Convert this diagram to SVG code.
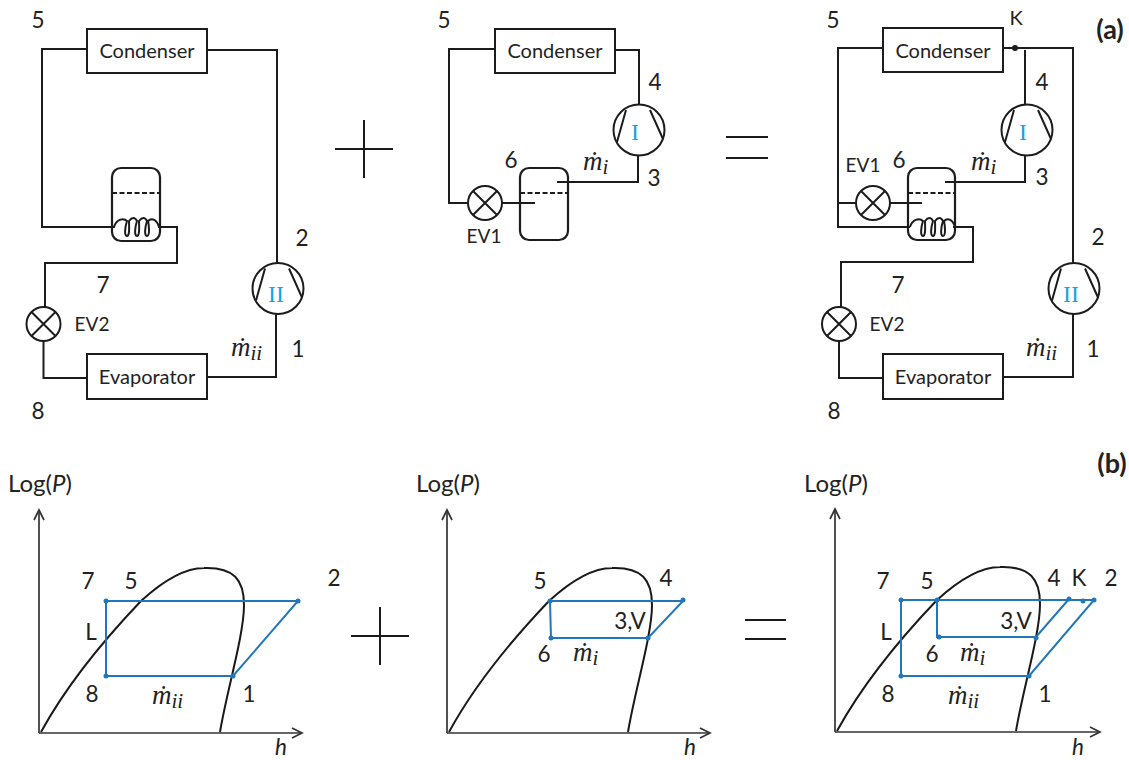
<svg xmlns="http://www.w3.org/2000/svg" width="1129" height="760" viewBox="0 0 1129 760">
<style>
text{font-family:"Lato","Carlito","Open Sans",sans-serif;fill:#222;text-anchor:middle}
.n{font-size:22.500px}.s{font-size:19px}.l{font-size:20px}.g{font-size:24px}.b{font-size:27px;font-weight:bold}
.m{font-family:"Liberation Serif",serif;font-style:italic;font-size:27px;text-anchor:start}
.m tspan{font-size:21px}
.r{font-family:"Liberation Serif",serif;font-size:24px;fill:#14a5e3}
.i{font-style:italic}
.w{fill:none;stroke:#1c1c1c;stroke-width:2}
.box{fill:#fff;stroke:#1c1c1c;stroke-width:2}
.d{fill:none;stroke:#1c1c1c;stroke-width:2;stroke-dasharray:5 2.500}
.a{fill:none;stroke:#333;stroke-width:1.700}
.h{fill:none;stroke:#1a1a1a;stroke-width:2}
.c{fill:none;stroke:#2277bb;stroke-width:2}
.p{fill:#2277bb}
.t{fill:none;stroke:#1c1c1c;stroke-width:2.200}
</style>
<defs>
<g id="comp"><circle r="25.500" class="box"/><path class="w" d="M-13,-20L-22,12M11,-20L24,9"/></g>
<g id="valve"><circle r="17" class="box"/><path class="w" d="M-12,-12L12,12M-12,12L12,-12"/></g>
<path id="coil" class="w" d="M0,9C2,2 9,-1 13,3C11,9 10,18 13,18C16,18 15,7 15,3C18,-1 21,-1 23,3C21,9 20,18 23,18C26,18 25,7 25,3C28,-1 31,-1 33,3C31,9 30,18 33,18C36,18 35,7 34,3C38,-1 43,2 45,9"/>
<path id="dome" class="h" d="M2,222C25,180 60,135 102,91C125,70 145,58 165,58C195,57 205,70 205,95C205,125 188,180 181,222"/>
<g id="arr"><path class="a" d="M0,223V0"/><path class="a" d="M0,223H263"/></g>
<path id="ah" d="M-10,-5L0,0L-10,5" class="a"/>
</defs>

<g id="connectors">
<path class="w" d="M87,49H42V227H115"/>
<path class="w" d="M158,227H177V263H45V310"/>
<path class="w" d="M43.500,338V378H87"/>
<path class="w" d="M207,377H276V312"/>
<path class="w" d="M277,265V50H207"/>

<path class="w" d="M495,49H449V203H470"/>
<path class="w" d="M500,203H535"/>
<path class="w" d="M557,182H638V154"/>
<path class="w" d="M639,106V50H614"/>

<path class="w" d="M883,48H838V227H910"/>
<path class="w" d="M838,203H858"/>
<path class="w" d="M888,203H922"/>
<path class="w" d="M945,182H1025V154"/>
<path class="w" d="M1025,106V50"/>
<path class="w" d="M1003,48H1073V264"/>
<path class="w" d="M953,227H973V262H841V310"/>
<path class="w" d="M839,338V378H883"/>
<path class="w" d="M1003,377H1073V312"/>
<circle cx="1015" cy="48" r="3" fill="#1c1c1c"/>
</g>

<g id="cond-a1"><rect class="box" x="87" y="29" width="120" height="44"/><text class="l" x="147" y="58">Condenser</text></g>
<g id="evap-a1"><rect class="box" x="87" y="354" width="120" height="45"/><text class="l" x="147" y="384">Evaporator</text></g>
<g id="tank-a1"><rect class="t" x="112" y="168" width="48" height="73" rx="9" fill="none"/><path class="d" d="M112,193H160"/><use href="#coil" x="114" y="218"/></g>
<g id="valve-a1"><use href="#valve" x="43.500" y="324"/></g>
<g id="comp-a1"><use href="#comp" x="278" y="288.500"/><text class="r" x="276" y="302">II</text></g>

<g id="cond-a2"><rect class="box" x="495" y="29" width="120" height="44"/><text class="l" x="555" y="58">Condenser</text></g>
<g id="tank-a2"><rect class="t" x="520" y="168" width="48" height="72" rx="9" fill="none"/><path class="d" d="M520,193H568"/></g>
<g id="valve-a2"><use href="#valve" x="485" y="203"/></g>
<g id="comp-a2"><use href="#comp" x="639" y="130"/><text class="r" x="635" y="140">I</text></g>

<g id="cond-a3"><rect class="box" x="883" y="28" width="120" height="44"/><text class="l" x="943" y="58">Condenser</text></g>
<g id="evap-a3"><rect class="box" x="883" y="354" width="120" height="45"/><text class="l" x="943" y="384">Evaporator</text></g>
<g id="tank-a3"><rect class="t" x="908" y="168" width="47" height="72" rx="9" fill="none"/><path class="d" d="M908,193H955"/><use href="#coil" x="910" y="218"/></g>
<g id="valve-a3a"><use href="#valve" x="873" y="203"/></g>
<g id="valve-a3b"><use href="#valve" x="839" y="324"/></g>
<g id="comp-a3a"><use href="#comp" x="1027" y="130"/><text class="r" x="1023" y="140">I</text></g>
<g id="comp-a3b"><use href="#comp" x="1074" y="288.500"/><text class="r" x="1071" y="302">II</text></g>

<g id="ops">
<path class="h" d="M335,149H393M364,120V178M351,636H409M380,607V665"/>
<path class="h" d="M726,137H768M726,158H768M745,620H786M745,639H786"/>
</g>

<g id="labels-a">
<text class="n" x="38" y="28">5</text><text class="n" x="302" y="246">2</text><text class="n" x="103" y="293">7</text><text class="s" x="92" y="331">EV2</text><text class="n" x="38" y="419">8</text><text class="n" x="298" y="357">1</text><text class="m" x="231" y="356">ṁ<tspan dy="4">ii</tspan></text>
<text class="n" x="444" y="28">5</text><text class="n" x="655" y="90">4</text><text class="n" x="654" y="186">3</text><text class="n" x="511" y="168">6</text><text class="m" x="583" y="170">ṁ<tspan dy="4">i</tspan></text><text class="s" x="484" y="243">EV1</text>
<text class="n" x="833" y="28">5</text><text class="l" x="1016" y="25">K</text><text class="b" x="1110" y="39">(a)</text><text class="n" x="1042" y="90">4</text><text class="n" x="1042" y="185">3</text><text class="n" x="899" y="168">6</text><text class="s" x="863" y="172">EV1</text><text class="m" x="971" y="170">ṁ<tspan dy="4">i</tspan></text><text class="n" x="1098" y="245">2</text><text class="n" x="898" y="293">7</text><text class="s" x="887" y="331">EV2</text><text class="n" x="1093" y="357">1</text><text class="m" x="1026" y="356">ṁ<tspan dy="4">ii</tspan></text><text class="n" x="834" y="419">8</text>
</g>

<g id="chart-b1" transform="translate(39,510)">
<use href="#arr"/><path class="a" d="M-5,10L0,0L5,10"/><use href="#ah" x="263" y="223"/><use href="#dome"/>
</g>
<g id="chart-b2" transform="translate(447,510)">
<use href="#arr"/><path class="a" d="M-5,10L0,0L5,10"/><use href="#ah" x="263" y="223"/><use href="#dome"/>
</g>
<g id="chart-b3" transform="translate(835,509)">
<use href="#arr"/><path class="a" d="M-5,10L0,0L5,10"/><use href="#ah" x="265" y="223"/><use href="#dome"/>
</g>

<g id="cycles">
<path class="c" d="M106,601H298L233,676H106Z"/>
<circle class="p" cx="106" cy="601" r="2.500"/><circle class="p" cx="298" cy="601" r="2.500"/><circle class="p" cx="233" cy="676" r="2.500"/><circle class="p" cx="106" cy="676" r="2.500"/>
<path class="c" d="M550,601H683L648,638H551Z"/>
<circle class="p" cx="550" cy="601" r="2.500"/><circle class="p" cx="683" cy="600" r="2.500"/><circle class="p" cx="648" cy="638" r="2.500"/><circle class="p" cx="551" cy="638" r="2.500"/>
<path class="c" d="M901,600H1094L1029,676H901Z"/>
<path class="c" d="M937,600V637H1036L1069,599"/>
<circle class="p" cx="901" cy="600" r="2.500"/><circle class="p" cx="937" cy="600" r="2.500"/><circle class="p" cx="1069" cy="599" r="2.500"/><circle class="p" cx="1083" cy="601" r="2.500"/><circle class="p" cx="1094" cy="600" r="2.500"/><circle class="p" cx="1029" cy="676" r="2.500"/><circle class="p" cx="901" cy="676" r="2.500"/><circle class="p" cx="939" cy="637" r="2.500"/><circle class="p" cx="1036" cy="638" r="2.500"/>
</g>

<g id="labels-b">
<text class="b" x="1112" y="473">(b)</text>
<text class="g" x="40" y="492">Log(<tspan class="i">P</tspan>)</text><text class="g" x="448" y="492">Log(<tspan class="i">P</tspan>)</text><text class="g" x="836" y="492">Log(<tspan class="i">P</tspan>)</text>
<text class="n i" x="281" y="755">h</text><text class="n i" x="690" y="755">h</text><text class="n i" x="1078" y="755">h</text>
<text class="n" x="88" y="589">7</text><text class="n" x="131" y="589">5</text><text class="n" x="334" y="586">2</text><text class="n" x="91" y="640">L</text><text class="n" x="92" y="702">8</text><text class="m" x="152" y="704">ṁ<tspan dy="4">ii</tspan></text><text class="n" x="249" y="702">1</text>
<text class="n" x="540" y="589">5</text><text class="n" x="666" y="586">4</text><text class="n" x="630" y="629">3,V</text><text class="n" x="544" y="662">6</text><text class="m" x="573" y="661">ṁ<tspan dy="4">i</tspan></text>
<text class="n" x="883" y="589">7</text><text class="n" x="927" y="589">5</text><text class="n" x="1054" y="586">4</text><text class="n" x="1079" y="586">K</text><text class="n" x="1111" y="586">2</text><text class="n" x="886" y="640">L</text><text class="n" x="1016" y="629">3,V</text><text class="n" x="932" y="662">6</text><text class="m" x="960" y="661">ṁ<tspan dy="4">i</tspan></text><text class="n" x="888" y="702">8</text><text class="m" x="948" y="704">ṁ<tspan dy="4">ii</tspan></text><text class="n" x="1045" y="702">1</text>
</g>
</svg>
